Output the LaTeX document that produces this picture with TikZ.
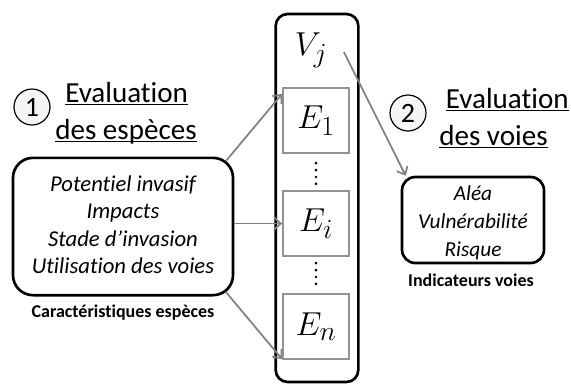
\documentclass[tikz,border=0pt]{standalone}
\usepackage{fontspec}
\setmainfont{Carlito}[Ligatures=NoCommon]
\usetikzlibrary{arrows.meta}
\newcommand{\ulword}[1]{$\underline{\smash{\hbox{#1}}}$}

\begin{document}
\begin{tikzpicture}[x=0.75pt,y=-0.75pt,
  colbox/.style={draw,line width=2pt,rounded corners=9pt,minimum width=62pt,minimum height=276pt,inner sep=0pt},
  ebox/.style={draw=gray!85,line width=1.4pt,minimum width=49.5pt,minimum height=49pt,inner sep=0pt,font=\fontsize{28}{32}\selectfont},
  infobox/.style={draw,line width=2pt,align=center,inner sep=0pt,font=\itshape\fontsize{17}{20.5}\selectfont},
  link/.style={draw=gray,line width=1.3pt,-{Straight Barb[length=5pt,width=9pt,line width=1.3pt]}},
  vdotline/.style={line width=2.2pt,line cap=round,dash pattern=on 0pt off 5.2pt},
  num/.style={draw,circle,line width=0.9pt,fill=gray!8,minimum size=27pt,inner sep=0pt,font=\fontsize{21}{21}\selectfont},
  title/.style={anchor=west,align=left,inner sep=0pt,font=\fontsize{21.8}{27.7}\selectfont},
  caption/.style={inner sep=0pt,font=\bfseries\fontsize{13.5}{15}\selectfont}]
\useasboundingbox (0,0) rectangle (571,383);

% column of voies / especes
\node[colbox] (col) at (317,198) {};
\node[font=\fontsize{28}{32}\selectfont] (vj) at (311,50) {$V_j$};
\node[ebox] (e1) at (316,120.5) {$E_1$};
\node[ebox] (ei) at (316,223.5) {$E_i$};
\node[ebox] (en) at (316,326.5) {$E_n$};
\draw[vdotline] ([shift={(0,9)}]e1.south) -- ([shift={(0,-6)}]ei.north);
\draw[vdotline] ([shift={(0,6)}]ei.south) -- ([shift={(0,-9)}]en.north);

% step 1
\node[num] (n1) at (32,107) {1};
\node[title] (t1) at (55,122) {\hspace*{7.5pt}\ulword{Evaluation}\\\ulword{des espèces}};
\node[infobox,rounded corners=15pt,minimum width=165pt,minimum height=103pt] (spec) at (123,226.5)
  {Potentiel invasif\\Impacts\\Stade d’invasion\\Utilisation des voies\rule[-3pt]{0pt}{0pt}};
\node[caption] (capspec) at (123,313) {Caractéristiques espèces};

% step 2
\node[num] (n2) at (408,113) {2};
\node[title] (t2) at (439,128) {\hspace*{5pt}\ulword{Evaluation}\\\ulword{des voies}};
\node[infobox,rounded corners=10pt,minimum width=106.5pt,minimum height=64.5pt,font=\itshape\fontsize{16}{21.2}\selectfont] (risk) at (473,220)
  {\rule{0pt}{15pt}Aléa\\Vulnérabilité\\Risque};
\node[caption] (caprisk) at (471,280) {Indicateurs voies};

% arrows
\draw[link] ([shift={(-8,4)}]spec.north east) -- ([shift={(0,7)}]e1.north west);
\draw[link] (spec.east |- ei.west) -- (ei.west);
\draw[link] ([shift={(-8,-4)}]spec.south east) -- ([shift={(0,-1)}]en.south west);
\draw[link] ([shift={(12,2)}]vj.east) -- ([shift={(5,0)}]risk.north west);
\end{tikzpicture}
\end{document}
